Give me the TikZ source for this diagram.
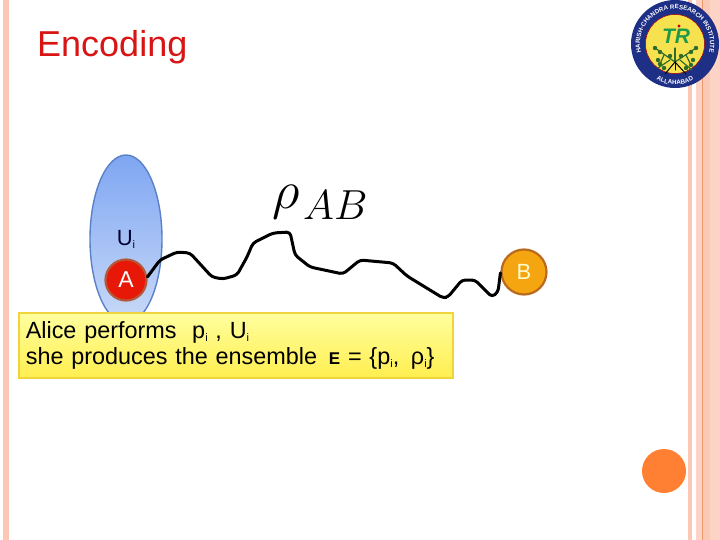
\documentclass[tikz,border=0pt]{standalone}
\usepackage{fix-cm}
\usepackage{fontspec}
\setmainfont{Liberation Sans}
\usetikzlibrary{decorations.text,shapes.geometric}
\definecolor{stripe}{HTML}{FBC8B6}
\definecolor{stripelight}{HTML}{FDD3C5}
\definecolor{stripeline}{HTML}{EE9A6E}
\definecolor{logoblue}{HTML}{1E2F86}
\definecolor{logoyellow}{HTML}{F6E24E}
\definecolor{logogreen}{HTML}{1E9A4A}
\definecolor{leaf}{HTML}{2F6B2A}
\definecolor{titlered}{HTML}{D81414}
\definecolor{ellipsetop}{HTML}{7FA6F2}
\definecolor{ellipsebot}{HTML}{C9DAF8}
\definecolor{ellipseline}{HTML}{5A80C8}
\definecolor{ballA}{HTML}{E81808}
\definecolor{ballAline}{HTML}{B5583A}
\definecolor{ballB}{HTML}{F5A50F}
\definecolor{ballBline}{HTML}{B96A1E}
\definecolor{notetop}{HTML}{FFFF9E}
\definecolor{notebot}{HTML}{FFEE50}
\definecolor{noteline}{HTML}{F0D43C}
\definecolor{dotfill}{HTML}{FF8033}
\newcommand{\sub}[1]{\raisebox{-3pt}{\fontsize{11}{11}\selectfont #1}}
\begin{document}
\begin{tikzpicture}[
  x=1pt, y=-1pt,
  band/.style={draw=none, fill=#1},
  ball/.style={circle, draw, line width=2.2pt, inner sep=0pt, minimum size=#1},
  wire/.style={line width=3pt, line join=round, line cap=round, rounded corners=3.5pt},
  ringtext/.style={decorate, decoration={text along path, text align=center, text={|\fontsize{6.2}{7}\selectfont\bfseries\color{white}|#1}}},
  branch/.style={leaf, line width=1.2pt, line cap=round}
]
\useasboundingbox (0,0) rectangle (720,540);
\fill[band=stripe] (3,0) rectangle (9,540);
\fill[band=stripe] (688,0) rectangle (692,540);
\fill[band=stripelight] (696,0) rectangle (720,540);
\fill[band=stripe] (703,0) rectangle (710,540);
\draw[stripeline, line width=0.9pt] (702.7,0) -- (702.7,540);

\node[anchor=base west, inner sep=0pt, text=titlered, font=\fontsize{36}{38}\selectfont] (title) at (37,57) {Encoding};

\node[circle, fill=logoblue, minimum size=88pt, inner sep=0pt] (logo) at (675,44) {};
\node[circle, fill=logoyellow, draw=red!70!black, line width=0.5pt, minimum size=59pt, inner sep=0pt] (seal) at (logo) {};
\path[ringtext={HARISH-CHANDRA RESEARCH INSTITUTE}] (logo.center) ++(160:35) arc[start angle=160, end angle=380, radius=35];
\path[ringtext={ALLAHABAD}] (logo.center) ++(130:40.5) arc[start angle=130, end angle=50, radius=40.5];
\node[text=logogreen, inner sep=0pt, font=\fontsize{21}{21}\selectfont\bfseries\itshape] (initials) at (676,36) {TR};
\fill[red!80!black] (679,26) circle (1.6);
\draw[branch] (675,48) -- (675,62);
\draw[branch] (675,62) -- (655,48);
\draw[branch] (675,62) -- (696,48);
\draw[branch] (664,55) -- (660,64);
\draw[branch] (686,55) -- (691,65);
\draw[branch] (670,60) -- (658,68);
\draw[branch] (680,60) -- (692,70);
\foreach \lx/\ly in {655/48,660/52,658/60,660/64,664/68,670/56,696/48,691/52,693/60,691/65,686/68,681/56}
  \fill[leaf] (\lx,\ly) circle (2.2);
\draw[branch, black, line width=1pt] (675,62) -- (665,74);
\draw[branch, black, line width=1pt] (675,62) -- (675,70);
\draw[branch, black, line width=1pt] (675,62) -- (686,74);

\node[ellipse, draw=ellipseline, line width=1.4pt, top color=ellipsetop, bottom color=ellipsebot, minimum width=72pt, minimum height=168pt, inner sep=0pt] (Uellipse) at (126,239) {};
\node[text=blue!20!black, font=\fontsize{22}{22}\selectfont, inner sep=0pt] (Ui) at (126,239) {U\sub{i}};
\node[ball=41pt, draw=ballAline, fill=ballA, text=white, font=\fontsize{23}{23}\selectfont] (A) at (126,280) {A};
\node[ball=45pt, draw=ballBline, fill=ballB, text=yellow!20!white, font=\fontsize{22}{22}\selectfont] (B) at (524,272) {B};

\draw[wire] (A.8) -- (160,260) -- (177,252) -- (190,253) -- (212,277) -- (223,279) -- (237,275) -- (247,257) -- (253,243) -- (273,233) -- (290,232) -- (295,255) -- (310,267) -- (343,274) -- (360,260) -- (393,263) -- (407,276) -- (443,298) -- (448,297) -- (462,280) -- (475,280) -- (492,297) -- (498,292) -- (B.182);

\node[anchor=base west, inner sep=0pt, font=\fontsize{54}{54}\selectfont] (rho) at (272,209) {$\rho$};
\node[anchor=base west, inner sep=0pt, font=\fontsize{42}{42}\selectfont] (AB) at (303,219) {$AB$};

\node[anchor=north west, draw=noteline, line width=1.6pt, top color=notetop, bottom color=notebot, minimum width=434pt, minimum height=65pt, text width=424pt, inner sep=0pt, align=left, font=\fontsize{23.4}{26}\selectfont] (caption) at (18,312)
  {\hspace*{2pt}Alice performs\ \ p\sub{i} , U\sub{i}\\\hspace*{2pt}she produces the ensemble\ \,{\fontsize{17}{26}\selectfont\bfseries E} = \{p\sub{i},\ \,ρ\sub{i}\}};

\node[circle, fill=dotfill, minimum size=44pt, inner sep=0pt] (dot) at (664,471) {};
\end{tikzpicture}
\end{document}
